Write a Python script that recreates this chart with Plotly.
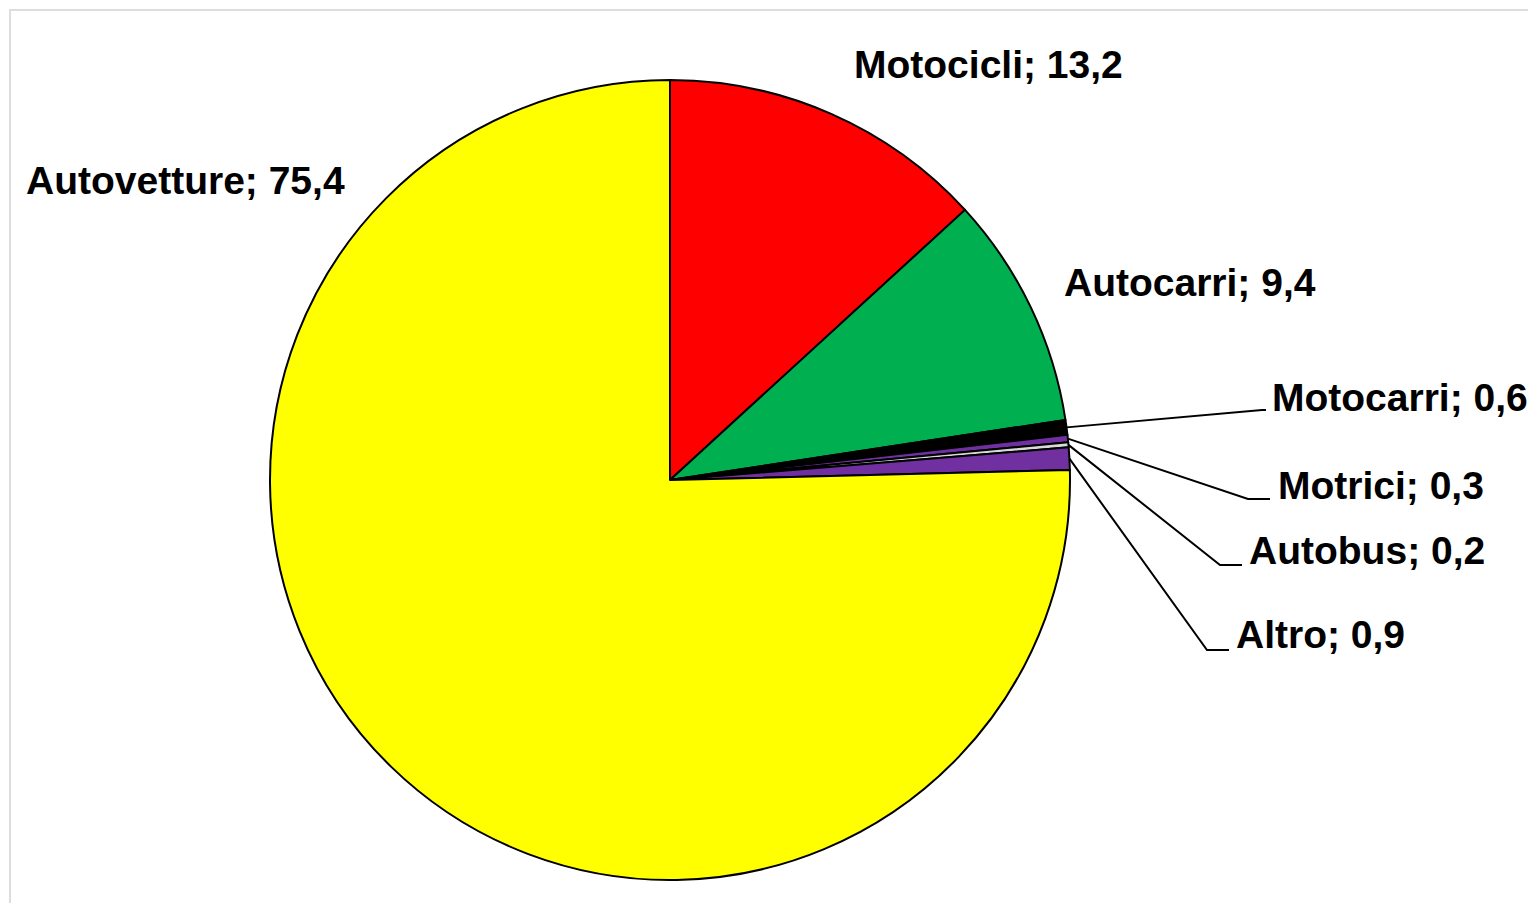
import math
import plotly.graph_objects as go

# Data
categories = ["Motocicli", "Autocarri", "Motocarri", "Motrici", "Autobus", "Altro", "Autovetture"]
values = [13.2, 9.4, 0.6, 0.3, 0.2, 0.9, 75.4]
colors = ["#FF0000", "#00B050", "#000000", "#7030A0", "#D9D9D9", "#7030A0", "#FFFF00"]

W, H = 1536, 903
OFF = 8  # default page body margin
CX, CY, R = 670, 480, 400  # pie center / radius in screen pixels (layout)

def px(x):
    return (x - OFF) / W

def py(y):
    return 1 - (y - OFF) / H

fig = go.Figure(go.Pie(
    labels=categories,
    values=values,
    marker=dict(colors=colors, line=dict(color="#000000", width=2)),
    sort=False,
    direction="clockwise",
    rotation=0,
    textinfo="none",
    hoverinfo="label+value",
    showlegend=False,
    domain=dict(x=[px(CX - R), px(CX + R)], y=[py(CY + R), py(CY - R)]),
))

def label_text(cat, val):
    return f"{cat}; {val:.1f}".replace(".", ",")

# label layout (pixels): (text_x, text_y, anchor, leader elbow (x, y, end_x) or None)
label_layout = {
    "Motocicli": (988, 65, "center", None),
    "Autocarri": (1190, 282, "center", None),
    "Autovetture": (185, 180, "center", None),
    "Motocarri": (1270, 397, "left", (1262, 410, 1266)),
    "Motrici": (1276, 485, "left", (1248, 499, 1270)),
    "Autobus": (1247, 550, "left", (1220, 565, 1242)),
    "Altro": (1234, 634, "left", (1207, 650, 1229)),
}

total = sum(values)
cum = 0.0
annotations = []
shapes = []
for cat, val in zip(categories, values):
    mid = (cum + val / 2) / total
    cum += val
    tx, ty, anchor, leader = label_layout[cat]
    annotations.append(dict(
        x=px(tx), y=py(ty), xref="paper", yref="paper",
        text=f"<b>{label_text(cat, val)}</b>", showarrow=False,
        xanchor=anchor, yanchor="middle",
        font=dict(family="Liberation Sans, Arial, sans-serif", size=39, color="#000000"),
    ))
    if leader:
        ang = math.radians(90 - mid * 360)
        ex = CX + R * math.cos(ang)
        ey = CY - R * math.sin(ang)
        bx, by, endx = leader
        shapes.append(dict(type="path", xref="paper", yref="paper",
                           path=f"M {px(ex)},{py(ey)} L {px(bx)},{py(by)} L {px(endx)},{py(by)}",
                           line=dict(color="#000000", width=2)))

# page frame
shapes.append(dict(type="rect", xref="paper", yref="paper",
                   x0=px(10), x1=px(1600), y0=py(960), y1=py(10),
                   line=dict(color="#DDDDDD", width=2), layer="below"))

fig.update_layout(
    width=W, height=H,
    margin=dict(l=0, r=0, t=0, b=0),
    paper_bgcolor="#FFFFFF",
    plot_bgcolor="#FFFFFF",
    annotations=annotations,
    shapes=shapes,
)

fig.write_html("out.html")
